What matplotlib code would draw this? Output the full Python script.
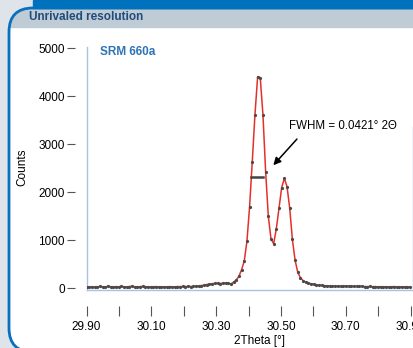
import numpy as np
import matplotlib
matplotlib.use("Agg")
import matplotlib.pyplot as plt
from matplotlib.patches import Rectangle, FancyBboxPatch

plt.rcParams['font.family'] = ['Liberation Sans', 'DejaVu Sans']

# measured scan, 2Theta grid starts at 29.90 with a fixed step
start_angle = 29.90
step = 0.00825
counts = [
    30, 26, 34, 22, 28, 38, 30, 24, 45, 32,
    27, 35, 29, 40, 33, 25, 36, 42, 30, 28,
    34, 38, 29, 33, 26, 31, 35, 27, 32, 30,
    28, 34, 31, 27, 36, 33, 38, 35, 40, 37,
    38, 44, 50, 56, 64, 78, 88, 96, 100, 106,
    98, 108, 112, 104, 90, 128, 172, 250, 385, 570,
    975, 1700, 2640, 3610, 4410, 4380, 3610, 2430, 1500, 1030,
    930, 1240, 1670, 2100, 2290, 2120, 1670, 1020, 590, 335,
    220, 160, 125, 105, 95, 82, 74, 66, 60, 55,
    52, 46, 50, 44, 48, 41, 45, 50, 43, 47,
    40, 44, 38, 42, 36, 34, 39, 32, 35, 30,
    34, 28, 33, 27, 31, 36, 29, 25, 32, 27,
    30, 28,
]
two_theta = start_angle + step * np.arange(len(counts))

xtick_pos = [29.90, 30.00, 30.10, 30.20, 30.30, 30.40, 30.50, 30.60, 30.70, 30.80, 30.90]
xtick_labels = ['29.90', '', '30.10', '', '30.30', '', '30.50', '', '30.70', '', '30.90']
ytick_pos = [0, 1000, 2000, 3000, 4000, 5000]
ytick_labels = ['0', '1000', '2000', '3000', '4000', '5000']

fwhm_left, fwhm_right, fwhm_level = 30.409, 30.444, 2325

W, H = 414, 348
fig = plt.figure(figsize=(W / 100, H / 100), dpi=100)

# page decoration: gray margin, rounded blue frame, header band
bg = fig.add_axes([0, 0, 1, 1])
bg.set_xlim(0, W)
bg.set_ylim(0, H)
bg.axis('off')
bg.add_patch(Rectangle((0, 0), W, H, color='#DEE4EA', zorder=0))
frame = FancyBboxPatch((9, -4), 460, H - 8 + 4, boxstyle='round,pad=0,rounding_size=24',
                       fc='white', ec='none', zorder=1)
bg.add_patch(frame)
header = Rectangle((0, H - 27), W, 19, color='#BFCCD6', zorder=2)
bg.add_patch(header)
header.set_clip_path(frame)
bg.add_patch(FancyBboxPatch((9, -4), 460, H - 8 + 4, boxstyle='round,pad=0,rounding_size=24',
                            fc='none', ec='#0A6FBD', lw=2, zorder=3))
bg.add_patch(Rectangle((33, H - 8), W, 8, color='#0071BC', zorder=4))
bg.text(29, H - 17.5, 'Unrivaled resolution', fontsize=8.5, fontweight='bold',
        color='#1F4C7A', va='center', ha='left', zorder=5)

# chart
ax = fig.add_axes([86.5 / W, 57.8 / H, 327 / W, 243.3 / H])
ax.patch.set_alpha(0)
ax.plot(two_theta, counts, color='#E5302A', lw=1.1, zorder=3,
        marker='o', markersize=1.3, markerfacecolor='#4A4A4A', markeredgecolor='#4A4A4A')
ax.set_xlim(29.90, 30.909)
ax.set_ylim(-40, 5030)

for s in ['top', 'right', 'left', 'bottom']:
    ax.spines[s].set_visible(False)
ax.spines['left'].set_position(('outward', 8.6))
ax.spines['bottom'].set_position(('outward', 11.5))
axis_col = '#A9C3E3'
ax.plot([0, 0], [0, 1], transform=ax.transAxes, color=axis_col, lw=1, clip_on=False)
ax.plot([0, 1], [0, 0], transform=ax.transAxes, color=axis_col, lw=1, clip_on=False)
ax.plot([1, 1], [0, 0.67], transform=ax.transAxes, color=axis_col, lw=1, clip_on=False)

ax.set_xticks(xtick_pos)
ax.set_xticklabels(xtick_labels)
ax.set_yticks(ytick_pos)
ax.set_yticklabels(ytick_labels)
ax.tick_params(axis='x', length=7.2, width=0.8, color='#555555', pad=3.5, labelsize=8.5)
ax.tick_params(axis='y', length=5.8, width=0.8, color='#555555', pad=1.2, labelsize=8.5)

ax.set_xlabel('2Theta [°]', fontsize=8.5)
ax.xaxis.set_label_coords(0.528, -0.185)
ax.set_ylabel('Counts', fontsize=8.5)
ax.yaxis.set_label_coords(-0.178, 0.506)

ax.text(0.04, 0.979, 'SRM 660a', transform=ax.transAxes, fontsize=8.5,
        fontweight='bold', color='#2E74B5', va='center', ha='left')

ax.plot([fwhm_left, fwhm_right], [fwhm_level, fwhm_level], color='#444444', lw=1.8, zorder=4)
ax.annotate('', xy=(30.4707, 2521), xytext=(30.555, 3152),
            arrowprops=dict(arrowstyle='-|>', color='black', lw=1.1, mutation_scale=11))
ax.text(30.525, 3387, 'FWHM = 0.0421° 2Θ', fontsize=8.3, va='center', ha='left')

fig.savefig('out.png', dpi=100)
